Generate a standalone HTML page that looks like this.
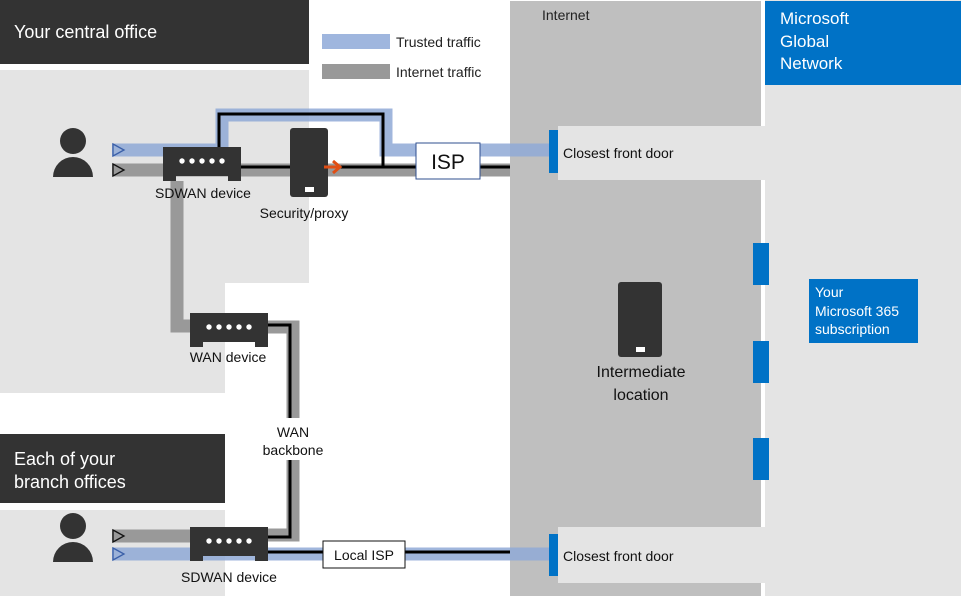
<!DOCTYPE html>
<html><head><meta charset="utf-8"><style>
html,body{margin:0;padding:0;background:#fff;}
svg{display:block;font-family:"Liberation Sans",sans-serif;}
</style></head><body>
<svg width="961" height="596" viewBox="0 0 961 596" xmlns="http://www.w3.org/2000/svg">
<!-- backgrounds -->
<rect x="0" y="0" width="309" height="64" fill="#333"/>
<text x="14" y="38" font-size="18" fill="#fff">Your central office</text>
<path d="M0 70 H309 V283 H225 V393 H0 Z" fill="#e4e4e4"/>
<rect x="0" y="434" width="225" height="69" fill="#333"/>
<text x="14" y="465" font-size="18" fill="#fff">Each of your</text>
<text x="14" y="488" font-size="18" fill="#fff">branch offices</text>
<rect x="0" y="510" width="225" height="86" fill="#e4e4e4"/>

<rect x="510" y="1" width="251" height="595" fill="#bfbfbf"/>
<text x="542" y="20" font-size="14" fill="#222">Internet</text>
<rect x="765" y="0" width="196" height="596" fill="#e4e4e4"/>
<rect x="765" y="1" width="196" height="84" fill="#0072c6"/>
<text x="780" y="24" font-size="17" fill="#fff">Microsoft</text>
<text x="780" y="47" font-size="17" fill="#fff">Global</text>
<text x="780" y="69" font-size="17" fill="#fff">Network</text>
<rect x="558" y="126" width="208" height="54" fill="#e4e4e4"/>
<rect x="558" y="527" width="208" height="56" fill="#e4e4e4"/>
<text x="563" y="158" font-size="14" fill="#111">Closest front door</text>
<text x="563" y="561" font-size="14" fill="#111">Closest front door</text>
<rect x="753" y="243" width="16" height="42" fill="#0072c6"/>
<rect x="753" y="341" width="16" height="42" fill="#0072c6"/>
<rect x="753" y="438" width="16" height="42" fill="#0072c6"/>
<rect x="809" y="279" width="109" height="64" fill="#0072c6"/>
<text x="815" y="297" font-size="14" fill="#fff">Your</text>
<text x="815" y="316" font-size="14" fill="#fff">Microsoft 365</text>
<text x="815" y="334" font-size="14" fill="#fff">subscription</text>

<!-- legend -->
<rect x="322" y="34" width="68" height="15" fill="#9fb6de"/>
<text x="396" y="47" font-size="14" fill="#222">Trusted traffic</text>
<rect x="322" y="64" width="68" height="15" fill="#999"/>
<text x="396" y="77" font-size="14" fill="#222">Internet traffic</text>

<!-- central lines -->
<path d="M112 150 H222 V115 H386 V150 H549" fill="none" stroke="#8fa9d6" stroke-opacity="0.85" stroke-width="13"/>
<path d="M112 170 H510" fill="none" stroke="#999" stroke-width="13"/>
<path d="M219 160 V114 H383 V167" fill="none" stroke="#000" stroke-width="3"/>
<path d="M241 167 H510" fill="none" stroke="#000" stroke-width="3"/>
<path d="M177 181 V326 H200" fill="none" stroke="#999" stroke-width="13"/>
<path d="M262 327 H293 V535 H262" fill="none" stroke="#999" stroke-width="13"/>
<path d="M262 325 H290 V537 H262" fill="none" stroke="#000" stroke-width="3"/>
<rect x="268" y="418" width="50" height="42" fill="#fff"/>
<text x="293" y="437" font-size="14" fill="#111" text-anchor="middle">WAN</text>
<text x="293" y="455" font-size="14" fill="#111" text-anchor="middle">backbone</text>
<!-- branch lines -->
<path d="M112 536 H200" stroke="#999" stroke-width="13"/>
<path d="M112 554 H549" stroke="#8fa9d6" stroke-opacity="0.85" stroke-width="13"/>
<path d="M262 552 H510" stroke="#000" stroke-width="3"/>
<rect x="549" y="130" width="9" height="43" fill="#0072c6"/>
<rect x="549" y="534" width="9" height="42" fill="#0072c6"/>

<!-- arrow heads -->
<path d="M113 144 L124 150 L113 156 Z" fill="none" stroke="#3a5fa8" stroke-width="1.3"/>
<path d="M113 164 L124 170 L113 176 Z" fill="none" stroke="#111" stroke-width="1.3"/>
<path d="M113 530 L124 536 L113 542 Z" fill="none" stroke="#111" stroke-width="1.3"/>
<path d="M113 548 L124 554 L113 560 Z" fill="none" stroke="#3a5fa8" stroke-width="1.3"/>

<!-- persons -->
<circle cx="73" cy="141" r="13" fill="#333"/>
<path d="M53 177 A20 20 0 0 1 93 177 Z" fill="#333"/>
<circle cx="73" cy="526" r="13" fill="#333"/>
<path d="M53 562 A20 20 0 0 1 93 562 Z" fill="#333"/>

<!-- devices -->
<g id="dev">
<path d="M163 147 H241 V181 H228 V176 H176 V181 H163 Z" fill="#333"/>
<g fill="#fff"><circle cx="182" cy="161" r="2.7"/><circle cx="192" cy="161" r="2.7"/><circle cx="202" cy="161" r="2.7"/><circle cx="212" cy="161" r="2.7"/><circle cx="222" cy="161" r="2.7"/></g>
</g>
<use href="#dev" x="27" y="166"/>
<use href="#dev" x="27" y="380"/>
<text x="203" y="198" font-size="14" fill="#111" text-anchor="middle">SDWAN device</text>
<text x="228" y="362" font-size="14" fill="#111" text-anchor="middle">WAN device</text>
<text x="229" y="582" font-size="14" fill="#111" text-anchor="middle">SDWAN device</text>

<rect x="290" y="128" width="38" height="69" rx="3" fill="#333"/>
<rect x="305" y="187" width="9" height="5" fill="#fff"/>
<path d="M324 167 H339" stroke="#e04e14" stroke-width="3"/>
<path d="M333 161 L340 167 L333 173" fill="none" stroke="#e04e14" stroke-width="3"/>
<text x="304" y="218" font-size="14" fill="#111" text-anchor="middle">Security/proxy</text>

<rect x="416" y="143" width="64" height="36" fill="#fff" stroke="#2f4f8f" stroke-width="1"/>
<text x="448" y="169" font-size="21" fill="#111" text-anchor="middle">ISP</text>
<rect x="323" y="541" width="82" height="27" fill="#fff" stroke="#111" stroke-width="1"/>
<text x="364" y="560" font-size="14" fill="#111" text-anchor="middle">Local ISP</text>

<rect x="618" y="282" width="44" height="75" rx="3" fill="#333"/>
<rect x="636" y="347" width="9" height="5" fill="#fff"/>
<text x="641" y="377" font-size="16" fill="#111" text-anchor="middle">Intermediate</text>
<text x="641" y="400" font-size="16" fill="#111" text-anchor="middle">location</text>
</svg>
</body></html>
